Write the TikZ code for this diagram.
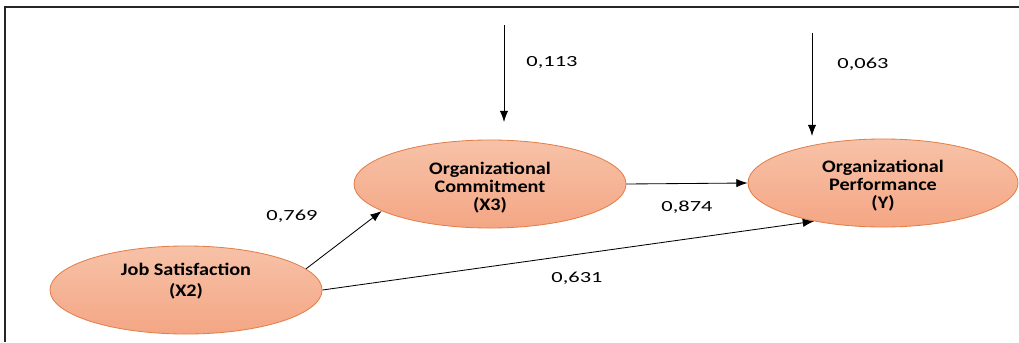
\documentclass[tikz,border=0pt]{standalone}
\usepackage{fontspec}
\setmainfont{Carlito}[FakeStretch=1.15]
\newfontfamily\coeffont{Carlito}[FakeStretch=1.45]
\usetikzlibrary{shapes.geometric,arrows.meta}
\definecolor{ellTop}{RGB}{247,194,168}
\definecolor{ellBot}{RGB}{244,166,132}
\definecolor{ellLine}{RGB}{226,128,74}
\begin{document}
\begin{tikzpicture}[x=0.025cm, y=-0.025cm,
    latent/.style={ellipse, draw=ellLine, line width=0.6pt, top color=ellTop, bottom color=ellBot,
        minimum width=6.8cm, minimum height=2.2cm, align=center, inner sep=0pt,
        font=\fontsize{12.5}{13}\selectfont\bfseries},
    path/.style={-{Latex[length=8pt,width=6pt]}, line width=0.6pt},
    coef/.style={font=\coeffont\fontsize{11}{13}\selectfont}]
        \useasboundingbox (0,0) rectangle (1019,342);
        % Frame
        \draw[line width=1pt, black!85] (5,342) -- (5,7) -- (1019,7);

        % Latent variables
        \node[latent, text depth=0.5cm] (js) at (186,290) {Job Satisfaction\\[2pt](X2)};
        \node[latent, text height=1.4cm] (oc) at (490,184) {Organizational\\Commitment\\(X3)};
        \node[latent, text height=1.35cm, minimum width=6.75cm] (op) at (883,183) {Organizational\\Performance\\(Y)};

        % Error terms
        \coordinate (e1) at (504,25);
        \coordinate (e1tip) at (504,122);
        \coordinate (e2) at (812,33);
        \coordinate (e2tip) at (812,136);
        \draw[path] (e1) -- (e1tip);
        \draw[path] (e2) -- (e2tip);
        \node[coef] (r1) at (552,62) {0,113};
        \node[coef] (r2) at (863,64) {0,063};

        % Paths
        \draw[path] (js.10) -- (oc.194);
        \draw[path] (oc.east) -- (op.west);
        \draw[path] (js.east) -- (op.209);
        \node[coef] (p1) at (292,216) {0,769};
        \node[coef] (p2) at (687,207) {0,874};
        \node[coef] (p3) at (577,278) {0,631};
    \end{tikzpicture}
\end{document}
